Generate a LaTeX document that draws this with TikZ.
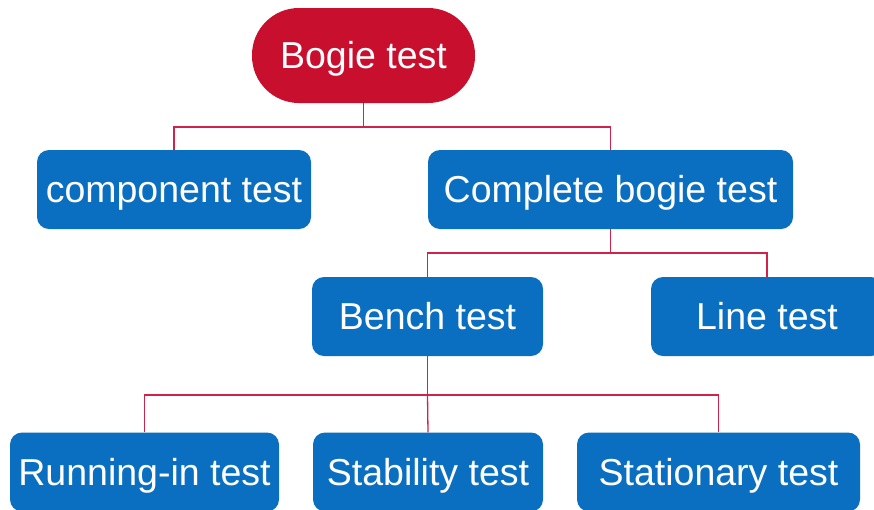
\documentclass[tikz,border=0pt]{standalone}
\usepackage{fontspec}
\setmainfont{Liberation Sans}
\definecolor{bogiered}{HTML}{C8102E}
\definecolor{boxblue}{HTML}{0A6FC0}
\definecolor{linkred}{HTML}{D0234A}
\begin{document}
\begin{tikzpicture}[x=1pt,y=-1pt,
  txt/.style={text=white, font=\fontsize{37.5}{42}\selectfont, inner sep=0pt,
    text height=26pt, text depth=0pt},
  box/.style={txt, rectangle, fill=boxblue, rounded corners=12pt, minimum height=79pt},
  rootbox/.style={txt, rectangle, fill=bogiered, rounded corners=47pt,
    minimum height=95pt, minimum width=223pt},
  link/.style={draw=linkred, line width=1.3pt}]
\useasboundingbox (0,0) rectangle (874,509);
\fill[white] (0,0) rectangle (874,509);
\node[rootbox] (bogie) at (363.5,55.5) {Bogie test};
\node[box, minimum width=274pt] (comp) at (174,189.5) {component test};
\node[box, minimum width=365pt] (complete) at (610.5,189.5) {Complete bogie test};
\node[box, minimum width=231pt] (bench) at (427.5,316.5) {Bench test};
\node[box, minimum width=232pt] (line) at (767,316.5) {Line test};
\node[box, minimum width=269pt] (run) at (144.5,472) {Running-in test};
\node[box, minimum width=230pt] (stab) at (428,472) {Stability test};
\node[box, minimum width=283pt] (stat) at (718.5,472) {Stationary test};
\coordinate (j1) at (363.5,127);
\coordinate (j2) at (610.5,253);
\coordinate (j3) at (427.5,395);
\draw[link] (bogie.south) -- (j1);
\draw[link] (j1) -| (comp.north);
\draw[link] (j1) -| (complete.north);
\draw[link] (complete.south) -- (j2);
\draw[link] (j2) -| (bench.north);
\draw[link] (j2) -| (line.north);
\draw[link] (bench.south) -- (j3);
\draw[link] (j3) -| (run.north);
\draw[link] (j3) -- (stab.north);
\draw[link] (j3) -| (stat.north);
\end{tikzpicture}
\end{document}
